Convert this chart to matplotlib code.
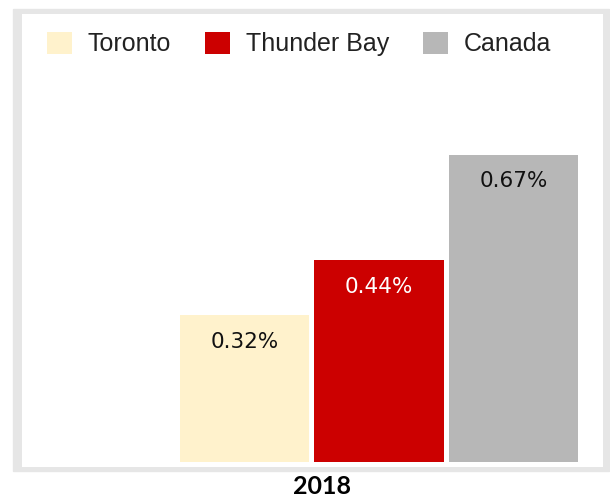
import matplotlib
matplotlib.use("Agg")
import matplotlib.pyplot as plt
from matplotlib.patches import Rectangle

# data
series = ["Toronto", "Thunder Bay", "Canada"]
values = [0.32, 0.44, 0.67]
labels = ["0.32%", "0.44%", "0.67%"]
year = "2018"
colors = ["#FFF2CC", "#CC0000", "#B7B7B7"]
label_colors = ["#111111", "#FFFFFF", "#111111"]

W, H = 610, 497
fig = plt.figure(figsize=(W / 100, H / 100), dpi=100)

# grey frame behind the plot area
fig.patches.append(Rectangle((13 / W, 1 - 471 / H), 596 / W, 462 / H,
                             transform=fig.transFigure, color="#E6E6E6",
                             zorder=0))

ax = fig.add_axes([22 / W, 1 - 467 / H, 581 / W, 453 / H])
ax.set_zorder(2)
ax.set_facecolor("white")

xs = list(range(len(series)))
bars = ax.bar(xs, values, width=0.96, color=colors, label=series)

for b, lab, c in zip(bars, labels, label_colors):
    ax.text(b.get_x() + b.get_width() / 2, b.get_height() - 0.057, lab,
            ha="center", va="center", fontsize=15.5, color=c,
            family="DejaVu Sans")

ax.set_xlim(-1.654, 2.665)
ax.set_ylim(-0.0109, 0.978)
ax.set_xticks([])
ax.set_yticks([])
for s in ax.spines.values():
    s.set_visible(False)

fig.text(322 / W, 1 - 494 / H, year, ha="center", va="baseline",
         fontsize=18, fontweight="bold", family="Lato")

leg = fig.legend(handles=bars, labels=series, loc="center left",
                 bbox_to_anchor=(47 / W, 1 - 44 / H), ncol=3, frameon=False,
                 borderpad=0, borderaxespad=0, handlelength=1.0,
                 handleheight=1.0, handletextpad=0.64, columnspacing=1.35,
                 prop={"family": "Liberation Sans", "size": 18},
                 labelcolor="#222222")
leg.set_zorder(3)

fig.savefig("out.png", dpi=100)
